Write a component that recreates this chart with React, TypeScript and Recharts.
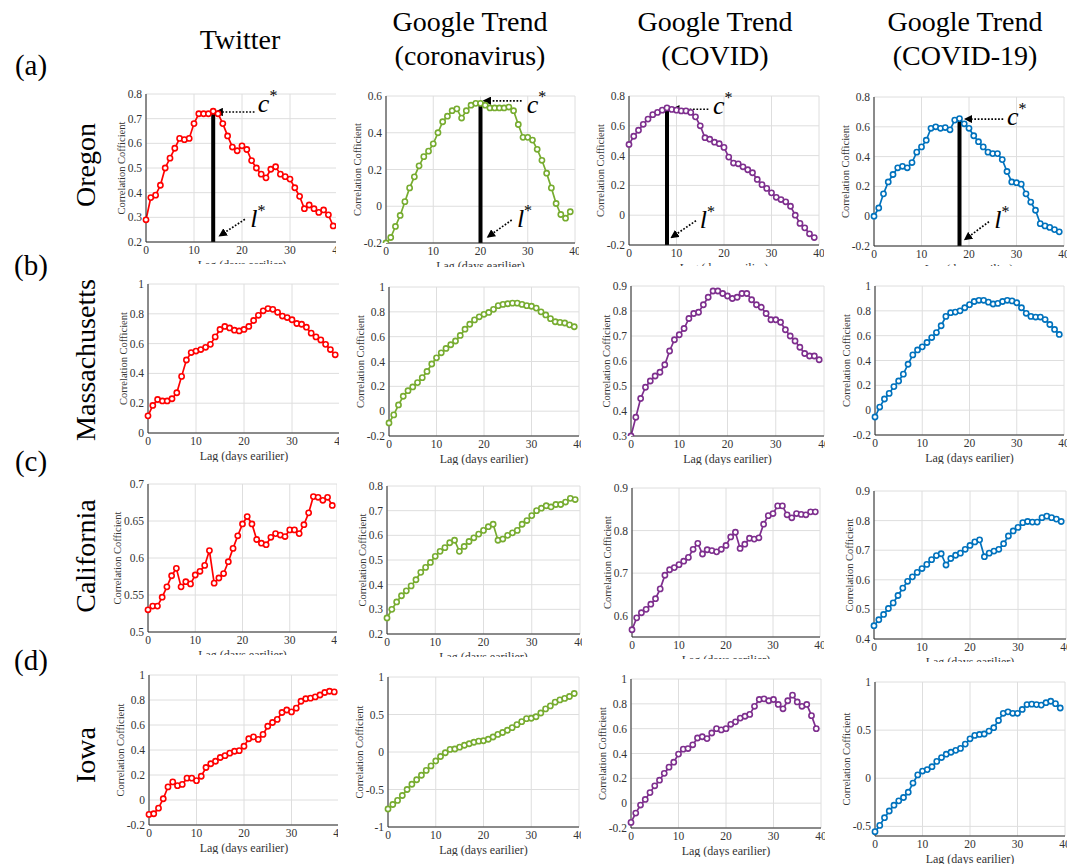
import { LineChart, Line, XAxis, YAxis, CartesianGrid, ReferenceLine, ReferenceDot } from 'recharts'

// lag in days (x axis of every panel)
const lags = [0, 1, 2, 3, 4, 5, 6, 7, 8, 9, 10, 11, 12, 13, 14, 15, 16, 17, 18, 19, 20, 21, 22, 23, 24, 25, 26, 27, 28, 29, 30, 31, 32, 33, 34, 35, 36, 37, 38, 39]

// (a) Oregon
const oregonTwitter = [0.29, 0.38, 0.39, 0.43, 0.5, 0.54, 0.58, 0.62, 0.615, 0.62, 0.68, 0.72, 0.72, 0.72, 0.73, 0.72, 0.68, 0.63, 0.585, 0.57, 0.59, 0.575, 0.53, 0.5, 0.475, 0.46, 0.495, 0.505, 0.475, 0.465, 0.455, 0.42, 0.385, 0.335, 0.35, 0.335, 0.32, 0.33, 0.31, 0.265]
const oregonCoronavirus = [-0.2, -0.17, -0.11, -0.05, 0.025, 0.1, 0.16, 0.22, 0.27, 0.3, 0.34, 0.4, 0.46, 0.49, 0.52, 0.53, 0.48, 0.52, 0.55, 0.56, 0.56, 0.55, 0.535, 0.535, 0.535, 0.535, 0.54, 0.52, 0.445, 0.375, 0.375, 0.36, 0.31, 0.25, 0.18, 0.1, 0.015, -0.045, -0.065, -0.03]
const oregonCovid = [0.475, 0.53, 0.57, 0.61, 0.645, 0.675, 0.69, 0.705, 0.72, 0.71, 0.705, 0.7, 0.7, 0.69, 0.66, 0.6, 0.52, 0.51, 0.49, 0.48, 0.455, 0.39, 0.35, 0.345, 0.325, 0.305, 0.285, 0.24, 0.205, 0.18, 0.15, 0.12, 0.105, 0.09, 0.06, 0.0, -0.055, -0.085, -0.125, -0.15]
const oregonCovid19 = [0.0, 0.055, 0.15, 0.23, 0.28, 0.325, 0.335, 0.325, 0.36, 0.43, 0.465, 0.51, 0.59, 0.6, 0.59, 0.595, 0.58, 0.645, 0.655, 0.62, 0.59, 0.54, 0.5, 0.465, 0.43, 0.42, 0.42, 0.38, 0.3, 0.23, 0.225, 0.215, 0.15, 0.095, 0.04, -0.05, -0.065, -0.075, -0.09, -0.105]

// (b) Massachusetts
const massTwitter = [0.115, 0.185, 0.225, 0.215, 0.215, 0.23, 0.27, 0.38, 0.49, 0.54, 0.55, 0.56, 0.575, 0.595, 0.645, 0.695, 0.715, 0.705, 0.69, 0.685, 0.695, 0.715, 0.755, 0.79, 0.82, 0.835, 0.83, 0.81, 0.785, 0.775, 0.76, 0.735, 0.73, 0.71, 0.67, 0.645, 0.625, 0.595, 0.56, 0.525]
const massCoronavirus = [-0.095, -0.03, 0.05, 0.12, 0.165, 0.195, 0.23, 0.27, 0.32, 0.38, 0.43, 0.47, 0.505, 0.535, 0.565, 0.61, 0.66, 0.7, 0.735, 0.76, 0.78, 0.795, 0.82, 0.85, 0.86, 0.865, 0.87, 0.87, 0.86, 0.85, 0.845, 0.83, 0.8, 0.775, 0.745, 0.72, 0.715, 0.71, 0.695, 0.68]
const massCovid = [0.3, 0.375, 0.45, 0.495, 0.52, 0.54, 0.555, 0.585, 0.64, 0.685, 0.705, 0.73, 0.77, 0.79, 0.795, 0.825, 0.855, 0.88, 0.88, 0.87, 0.86, 0.85, 0.855, 0.87, 0.87, 0.845, 0.825, 0.815, 0.79, 0.765, 0.765, 0.755, 0.725, 0.7, 0.68, 0.655, 0.63, 0.62, 0.62, 0.605]
const massCovid19 = [-0.055, 0.025, 0.09, 0.135, 0.19, 0.235, 0.29, 0.37, 0.445, 0.485, 0.51, 0.545, 0.585, 0.625, 0.68, 0.755, 0.785, 0.79, 0.8, 0.825, 0.85, 0.875, 0.885, 0.885, 0.87, 0.855, 0.86, 0.875, 0.885, 0.88, 0.865, 0.825, 0.78, 0.755, 0.75, 0.75, 0.73, 0.69, 0.65, 0.61]

// (c) California
const caliTwitter = [0.53, 0.535, 0.535, 0.547, 0.561, 0.576, 0.586, 0.561, 0.568, 0.565, 0.577, 0.582, 0.59, 0.61, 0.566, 0.573, 0.579, 0.595, 0.613, 0.63, 0.646, 0.656, 0.646, 0.625, 0.62, 0.618, 0.628, 0.633, 0.631, 0.629, 0.638, 0.638, 0.633, 0.645, 0.661, 0.683, 0.682, 0.678, 0.682, 0.671]
const caliCoronavirus = [0.265, 0.3, 0.33, 0.355, 0.375, 0.395, 0.42, 0.45, 0.47, 0.49, 0.515, 0.535, 0.55, 0.57, 0.58, 0.535, 0.555, 0.575, 0.59, 0.605, 0.62, 0.635, 0.645, 0.58, 0.585, 0.6, 0.61, 0.62, 0.645, 0.66, 0.68, 0.7, 0.71, 0.72, 0.715, 0.725, 0.725, 0.735, 0.75, 0.745]
const caliCovid = [0.567, 0.595, 0.607, 0.615, 0.627, 0.64, 0.663, 0.695, 0.708, 0.713, 0.72, 0.728, 0.737, 0.756, 0.77, 0.745, 0.755, 0.753, 0.75, 0.756, 0.765, 0.785, 0.796, 0.758, 0.768, 0.782, 0.78, 0.783, 0.815, 0.835, 0.84, 0.858, 0.858, 0.837, 0.83, 0.84, 0.838, 0.837, 0.844, 0.844]
const caliCovid19 = [0.445, 0.465, 0.483, 0.503, 0.522, 0.547, 0.572, 0.595, 0.61, 0.625, 0.638, 0.652, 0.668, 0.682, 0.688, 0.65, 0.672, 0.683, 0.69, 0.703, 0.716, 0.728, 0.735, 0.678, 0.69, 0.697, 0.703, 0.722, 0.748, 0.765, 0.777, 0.793, 0.797, 0.795, 0.795, 0.81, 0.815, 0.81, 0.805, 0.797]

// (d) Iowa
const iowaTwitter = [-0.115, -0.11, -0.065, 0.01, 0.105, 0.145, 0.115, 0.125, 0.175, 0.175, 0.155, 0.19, 0.26, 0.29, 0.31, 0.34, 0.355, 0.375, 0.39, 0.395, 0.43, 0.49, 0.505, 0.485, 0.525, 0.59, 0.62, 0.645, 0.7, 0.72, 0.705, 0.735, 0.79, 0.81, 0.815, 0.825, 0.84, 0.86, 0.87, 0.865]
const iowaCoronavirus = [-0.76, -0.7, -0.645, -0.58, -0.5, -0.43, -0.37, -0.31, -0.245, -0.185, -0.12, -0.06, -0.01, 0.035, 0.04, 0.065, 0.09, 0.11, 0.13, 0.145, 0.15, 0.17, 0.2, 0.235, 0.26, 0.29, 0.325, 0.365, 0.405, 0.445, 0.45, 0.47, 0.52, 0.575, 0.615, 0.665, 0.695, 0.715, 0.74, 0.78]
const iowaCovid = [-0.155, -0.08, -0.015, 0.03, 0.085, 0.14, 0.185, 0.24, 0.29, 0.33, 0.395, 0.435, 0.44, 0.47, 0.525, 0.535, 0.52, 0.565, 0.6, 0.59, 0.6, 0.635, 0.655, 0.685, 0.7, 0.715, 0.78, 0.835, 0.84, 0.825, 0.835, 0.795, 0.76, 0.825, 0.87, 0.815, 0.78, 0.795, 0.705, 0.6]
const iowaCovid19 = [-0.555, -0.49, -0.41, -0.34, -0.28, -0.235, -0.2, -0.145, -0.05, 0.035, 0.075, 0.09, 0.12, 0.175, 0.215, 0.25, 0.27, 0.29, 0.31, 0.355, 0.41, 0.445, 0.455, 0.46, 0.49, 0.525, 0.6, 0.675, 0.69, 0.675, 0.675, 0.715, 0.765, 0.77, 0.765, 0.76, 0.785, 0.8, 0.775, 0.73]

const xTicks = [0, 10, 20, 30, 40]

const SERIF = "'Times New Roman', 'Liberation Serif', serif"
const TWITTER = '#ff0000'
const CORONA = '#77ac30'
const COVID = '#7e2f8e'
const COVID19 = '#0072bd'

const ML = 50 // margin.left + yaxis width
const MT = 20
const MR = 6
const XH = 27
const MB = XH + 2

type Pt = [number, number]
type Note = { lag: number; cText: Pt; cFrom: Pt; cTo: Pt; lText: Pt; lFrom: Pt; lTo: Pt }
type Panel = {
  values: number[]
  color: string
  domain: [number, number]
  ticks: number[]
  box: [number, number, number, number] // left, right, top, bottom of plot area
  note?: Note
}

const fmt = (v: number) => String(+v.toFixed(2))

function tickWidth(ticks: number[]) {
  let w = 0
  for (const t of ticks) {
    let s = 0
    for (const ch of fmt(t)) s += ch === '.' ? 2.75 : ch === '-' ? 3.7 : 5.5
    w = Math.max(w, s)
  }
  return w
}

const starText = (letter: string) => (p: any) => (
  <text x={p.cx} y={p.cy} fontFamily={SERIF} fontStyle="italic" fontSize={26} fill="#000">
    {letter}
    <tspan dy={-11} fontSize={16} fontStyle="normal">*</tspan>
  </text>
)

const arrowShape = (p: any) => (
  <line x1={p.x1} y1={p.y1} x2={p.x2} y2={p.y2} stroke="#000" strokeWidth={1.7} strokeDasharray="1.7 1.7" markerEnd="url(#arrowHead)" />
)

function PanelChart({ panel }: { panel: Panel }) {
  const [left, right, top, bottom] = panel.box
  const width = right - left + ML + MR
  const height = bottom - top + MT + MB
  const data = lags.map((lag, i) => ({ lag, value: panel.values[i] }))
  const centerOffset = 4 + tickWidth(panel.ticks) + 7
  const note = panel.note
  return (
    <div style={{ position: 'absolute', left: left - ML, top: top - MT, width, height, background: '#fff' }}>
      <LineChart width={width} height={height} data={data} margin={{ top: MT, right: MR, bottom: 2, left: 5 }}>
        <CartesianGrid stroke="#dedede" strokeWidth={1} />
        <XAxis
          dataKey="lag"
          type="number"
          domain={[0, 40]}
          ticks={xTicks}
          interval={0}
          height={XH}
          tickLine={false}
          tickSize={2}
          tick={{ fontSize: 11.5, fontFamily: SERIF, fill: '#333' }}
          stroke="#262626"
          label={{ value: 'Lag (days earilier)', position: 'insideBottom', offset: 0, style: { fontSize: 12, fontFamily: SERIF, fill: '#333' } }}
        />
        <YAxis
          type="number"
          domain={panel.domain}
          ticks={panel.ticks}
          interval={0}
          allowDataOverflow
          width={45}
          tickLine={false}
          tickSize={3}
          tickMargin={1}
          tickFormatter={fmt}
          tick={{ fontSize: 11.5, fontFamily: SERIF, fill: '#333' }}
          stroke="#262626"
          label={{
            value: 'Correlation Cofficient',
            angle: -90,
            position: 'insideLeft',
            offset: 45 - centerOffset,
            style: { textAnchor: 'middle', fontSize: 10.5, fontFamily: SERIF, fill: '#333' },
          }}
        />
        <Line
          type="linear"
          dataKey="value"
          stroke={panel.color}
          strokeWidth={1.7}
          dot={{ r: 2.6, stroke: panel.color, strokeWidth: 1.6, fill: '#fff' }}
          activeDot={false}
          isAnimationActive={false}
        />
        {note && (
          <ReferenceLine
            segment={[{ x: note.lag, y: panel.domain[0] }, { x: note.lag, y: panel.values[note.lag] }]}
            stroke="#000"
            strokeWidth={4}
          />
        )}
        {note && <ReferenceLine segment={[{ x: note.cFrom[0], y: note.cFrom[1] }, { x: note.cTo[0], y: note.cTo[1] }]} shape={arrowShape} />}
        {note && <ReferenceLine segment={[{ x: note.lFrom[0], y: note.lFrom[1] }, { x: note.lTo[0], y: note.lTo[1] }]} shape={arrowShape} />}
        {note && <ReferenceDot x={note.cText[0]} y={note.cText[1]} shape={starText('c')} />}
        {note && <ReferenceDot x={note.lText[0]} y={note.lText[1]} shape={starText('l')} />}
      </LineChart>
    </div>
  )
}

const t02_08 = [0.2, 0.3, 0.4, 0.5, 0.6, 0.7, 0.8]
const tm02_06 = [-0.2, 0, 0.2, 0.4, 0.6]
const tm02_08 = [-0.2, 0, 0.2, 0.4, 0.6, 0.8]
const t0_1 = [0, 0.2, 0.4, 0.6, 0.8, 1]
const tm02_1 = [-0.2, 0, 0.2, 0.4, 0.6, 0.8, 1]
const t03_09 = [0.3, 0.4, 0.5, 0.6, 0.7, 0.8, 0.9]
const t05_07 = [0.5, 0.55, 0.6, 0.65, 0.7]
const t06_09 = [0.6, 0.7, 0.8, 0.9]
const t04_09 = [0.4, 0.5, 0.6, 0.7, 0.8, 0.9]
const tm1_1 = [-1, -0.5, 0, 0.5, 1]
const tm05_1 = [-0.5, 0, 0.5, 1]

const panels: Panel[] = [
  {
    values: oregonTwitter, color: TWITTER, domain: [0.2, 0.8], ticks: t02_08, box: [146, 338, 94, 242],
    note: { lag: 14, cText: [23.3, 0.727], cFrom: [22.6, 0.727], cTo: [14.6, 0.727], lText: [21.7, 0.262], lFrom: [20.6, 0.292], lTo: [15.4, 0.226] },
  },
  {
    values: oregonCoronavirus, color: CORONA, domain: [-0.2, 0.6], ticks: tm02_06, box: [386, 575, 96, 243],
    note: { lag: 20, cText: [29.8, 0.51], cFrom: [28.7, 0.574], cTo: [20.8, 0.574], lText: [27.7, -0.113], lFrom: [26.6, -0.075], lTo: [21.6, -0.166] },
  },
  {
    values: oregonCovid, color: COVID, domain: [-0.2, 0.8], ticks: tm02_08, box: [629, 819, 96, 245],
    note: { lag: 8, cText: [17.7, 0.68], cFrom: [16.7, 0.711], cTo: [9.2, 0.711], lText: [14.9, -0.086], lFrom: [14.1, -0.037], lTo: [9.0, -0.148] },
  },
  {
    values: oregonCovid19, color: COVID19, domain: [-0.2, 0.8], ticks: tm02_08, box: [874, 1064, 97, 246],
    note: { lag: 18, cText: [28.0, 0.612], cFrom: [27.2, 0.652], cTo: [19.3, 0.652], lText: [25.3, -0.079], lFrom: [24.2, -0.037], lTo: [19.2, -0.155] },
  },
  { values: massTwitter, color: TWITTER, domain: [0, 1], ticks: t0_1, box: [148, 340, 284, 433] },
  { values: massCoronavirus, color: CORONA, domain: [-0.2, 1], ticks: tm02_1, box: [389, 579, 287, 436] },
  { values: massCovid, color: COVID, domain: [0.3, 0.9], ticks: t03_09, box: [631, 824, 286, 436] },
  { values: massCovid19, color: COVID19, domain: [-0.2, 1], ticks: tm02_1, box: [875, 1064, 286, 435] },
  { values: caliTwitter, color: TWITTER, domain: [0.5, 0.7], ticks: t05_07, box: [148, 337, 484, 632] },
  { values: caliCoronavirus, color: CORONA, domain: [0.2, 0.8], ticks: t02_08, box: [387, 580, 486, 634] },
  { values: caliCovid, color: COVID, domain: [0.55, 0.9], ticks: t06_09, box: [632, 820, 488, 637] },
  { values: caliCovid19, color: COVID19, domain: [0.4, 0.9], ticks: t04_09, box: [874, 1066, 491, 639] },
  { values: iowaTwitter, color: TWITTER, domain: [-0.2, 1], ticks: tm02_1, box: [149, 339, 675, 825] },
  { values: iowaCoronavirus, color: CORONA, domain: [-1, 1], ticks: tm1_1, box: [388, 579, 677, 827] },
  { values: iowaCovid, color: COVID, domain: [-0.2, 1], ticks: tm02_1, box: [631, 821, 679, 828] },
  { values: iowaCovid19, color: COVID19, domain: [-0.6, 1], ticks: tm05_1, box: [875, 1065, 682, 836] },
]

const columnTitles = [
  { lines: ['Twitter'], x: 240, y: 40 },
  { lines: ['Google Trend', '(coronavirus)'], x: 470, y: 39 },
  { lines: ['Google Trend', '(COVID)'], x: 715, y: 39 },
  { lines: ['Google Trend', '(COVID-19)'], x: 965, y: 39 },
]

const rowLetters = [
  { text: '(a)', y: 65 },
  { text: '(b)', y: 265 },
  { text: '(c)', y: 461 },
  { text: '(d)', y: 660 },
]

const rowStates = [
  { text: 'Oregon', y: 165 },
  { text: 'Massachusetts', y: 360 },
  { text: 'California', y: 556 },
  { text: 'Iowa', y: 755 },
]

export default function App() {
  return (
    <div style={{ position: 'absolute', left: 0, top: 0, width: 1067, height: 864, overflow: 'hidden', background: '#fff', fontFamily: SERIF }}>
      <svg width={0} height={0} style={{ position: 'absolute' }}>
        <defs>
          <marker id="arrowHead" viewBox="0 0 10 10" refX="8" refY="5" markerWidth="5" markerHeight="5" orient="auto">
            <path d="M0,0 L10,5 L0,10 z" fill="#000" />
          </marker>
        </defs>
      </svg>
      {panels.map((p, i) => (
        <PanelChart key={i} panel={p} />
      ))}
      {columnTitles.map((c, i) => (
        <div
          key={i}
          style={{
            position: 'absolute', left: c.x - 130, top: c.y, width: 260, transform: 'translateY(-50%)',
            textAlign: 'center', fontSize: 28, lineHeight: '34px', color: '#000',
          }}
        >
          {c.lines.map((l, j) => (
            <div key={j}>{l}</div>
          ))}
        </div>
      ))}
      {rowLetters.map((r, i) => (
        <div key={i} style={{ position: 'absolute', left: 31, top: r.y, transform: 'translate(-50%, -50%)', fontSize: 29, color: '#000' }}>
          {r.text}
        </div>
      ))}
      {rowStates.map((r, i) => (
        <div
          key={i}
          style={{
            position: 'absolute', left: 86, top: r.y, transform: 'translate(-50%, -50%) rotate(-90deg)',
            fontSize: 28, whiteSpace: 'nowrap', color: '#000',
          }}
        >
          {r.text}
        </div>
      ))}
    </div>
  )
}
